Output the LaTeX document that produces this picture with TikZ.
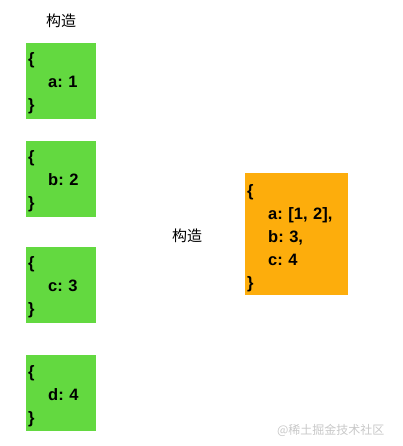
\documentclass[tikz,border=0pt]{standalone}
\usepackage{fontspec}
\setmainfont{Liberation Sans}
\newfontfamily\cjkfont{Noto Sans CJK SC}
\usepackage{xcolor}
\definecolor{objgreen}{HTML}{63D940}
\definecolor{objorange}{HTML}{FDAD0C}
\definecolor{markgray}{HTML}{C8C8C8}
\usetikzlibrary{positioning}
\frenchspacing

\begin{document}
\begin{tikzpicture}[
  x=1pt, y=-1pt,
  node distance=21pt,
  objbox/.style={minimum width=70pt, minimum height=76pt, inner sep=2pt, text width=66pt, align=left, font=\bfseries\fontsize{16.5}{23}\selectfont, anchor=north west, execute at begin node=\rule{0pt}{17pt}},
  srcbox/.style={objbox, fill=objgreen},
  resbox/.style={objbox, fill=objorange, minimum width=103pt, minimum height=122pt, text width=99pt, execute at begin node=\rule{0pt}{20pt}},
  caption/.style={font=\cjkfont\fontsize{15}{15}\selectfont},
]
  \useasboundingbox (0,0) rectangle (402,446);

  % source objects
  \node[srcbox] (objA) at (26,43) {\{\\\hspace*{20pt}a: 1\\\}};
  \node[srcbox, below=21pt of objA.south west, anchor=north west] (objB) {\{\\\hspace*{20pt}b: 2\\\}};
  \node[srcbox, below=30pt of objB.south west, anchor=north west] (objC) {\{\\\hspace*{20pt}c: 3\\\}};
  \node[srcbox, below=32pt of objC.south west, anchor=north west] (objD) {\{\\\hspace*{20pt}d: 4\\\}};

  % result object
  \node[resbox] (merged) at (245,173) {\{\\\hspace*{21pt}a: [1, 2],\\\hspace*{21pt}b: 3,\\\hspace*{21pt}c: 4\\\}};

  % captions
  \node[caption, above=12pt of objA] (topcap) {构造};
  \node[caption] (midcap) at (187,236) {构造};

  % watermark
  \node[font=\cjkfont\fontsize{12}{12}\selectfont, text=markgray, anchor=south east] (mark) at (388,440) {@稀土掘金技术社区};
\end{tikzpicture}
\end{document}
